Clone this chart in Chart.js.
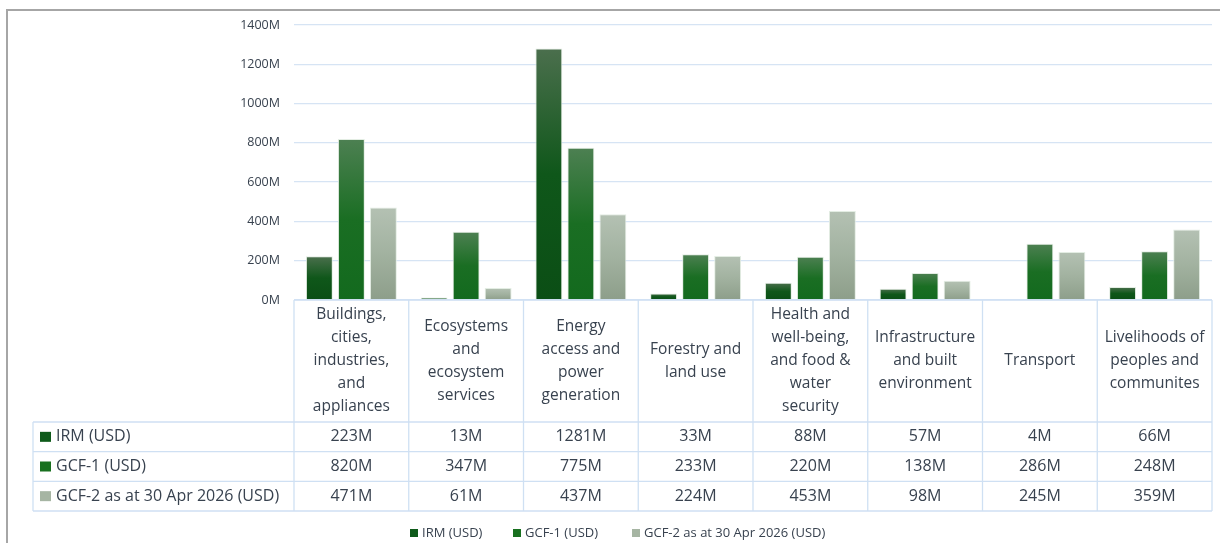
<!DOCTYPE html>
<html>
<head>
<meta charset="utf-8">
<script src="https://cdn.jsdelivr.net/npm/chart.js@4.4.1/dist/chart.umd.min.js"></script>
<style>
html,body{margin:0;padding:0;background:#fff;}
#wrap{position:relative;width:1220px;height:543px;}
</style>
</head>
<body>
<div id="wrap"><canvas id="c" width="1220" height="543"></canvas></div>
<script>
const categories = [
  ["Buildings,","cities,","industries,","and","appliances"],
  ["Ecosystems","and","ecosystem","services"],
  ["Energy","access and","power","generation"],
  ["Forestry and","land use"],
  ["Health and","well-being,","and food &","water","security"],
  ["Infrastructure","and built","environment"],
  ["Transport"],
  ["Livelihoods of","peoples and","communites"]
];
const seriesNames = ["IRM (USD)", "GCF-1 (USD)", "GCF-2 as at 30 Apr 2026 (USD)"];
const irm  = [223, 13, 1281, 33, 88, 57, 4, 66];
const gcf1 = [820, 347, 775, 233, 220, 138, 286, 248];
const gcf2 = [471, 61, 437, 224, 453, 98, 245, 359];
const yTicks = [0, 200, 400, 600, 800, 1000, 1200, 1400];

const FONT = "'Open Sans', 'Liberation Sans', sans-serif";
const TEXT = '#38424f';
const GRID = '#d6e4f4';

const gradStops = [
  ['#4b6f4d', '#0f571a', '#0b4e15'],
  ['#4d8052', '#1a6e23', '#136a1e'],
  ['#b4c1b3', '#a2b2a0', '#8d9e8a']
];
const legendColors = ['#0e5a1a', '#18701f', '#a6b5a3'];

function barGradient(idx) {
  return function(ctx) {
    const chart = ctx.chart;
    const ys = chart.scales.y;
    if (!ys || ctx.type !== 'data') return gradStops[idx][1];
    const v = ctx.parsed ? ctx.parsed.y : ctx.raw;
    const top = ys.getPixelForValue(v);
    const bot = ys.getPixelForValue(0);
    if (!isFinite(top) || !isFinite(bot) || bot - top < 1) return gradStops[idx][2];
    const g = chart.ctx.createLinearGradient(0, top, 0, bot);
    g.addColorStop(0, gradStops[idx][0]);
    g.addColorStop(0.5, gradStops[idx][1]);
    g.addColorStop(1, gradStops[idx][2]);
    return g;
  };
}

const tablePlugin = {
  id: 'tablePlugin',
  afterDraw(chart) {
    const ctx = chart.ctx;
    const area = chart.chartArea;
    const xs = chart.scales.x;
    const n = categories.length;
    const colW = (area.right - area.left) / n;
    const headTop = area.bottom;
    const headBot = 422;
    const rowH = (511 - 422) / 3;
    const leftX = 33;
    ctx.save();
    // outer frame
    ctx.strokeStyle = '#a6a6a6';
    ctx.lineWidth = 2;
    ctx.beginPath();
    ctx.moveTo(7, 543);
    ctx.lineTo(7, 10);
    ctx.lineTo(1220, 10);
    ctx.stroke();

    // table lines
    ctx.strokeStyle = '#cfe0f3';
    ctx.lineWidth = 1.3;
    ctx.beginPath();
    ctx.moveTo(area.left, headTop); ctx.lineTo(area.right, headTop);
    for (let r = 0; r <= 3; r++) {
      const y = headBot + r * rowH;
      ctx.moveTo(leftX, y); ctx.lineTo(area.right, y);
    }
    for (let i = 0; i <= n; i++) {
      const x = area.left + i * colW;
      ctx.moveTo(x, headTop); ctx.lineTo(x, headBot + 3 * rowH);
    }
    ctx.moveTo(leftX, headBot); ctx.lineTo(leftX, headBot + 3 * rowH);
    ctx.stroke();

    // header text
    ctx.fillStyle = TEXT;
    ctx.font = '15.5px ' + FONT;
    ctx.textAlign = 'center';
    ctx.textBaseline = 'middle';
    const lh = 23;
    categories.forEach((lines, i) => {
      const cx = xs.getPixelForValue(i);
      const cy = (headTop + headBot) / 2;
      const start = cy - (lines.length - 1) * lh / 2;
      lines.forEach((t, k) => ctx.fillText(t, cx, start + k * lh));
    });
    // rows
    const data = [irm, gcf1, gcf2];
    data.forEach((arr, r) => {
      const cy = headBot + r * rowH + rowH / 2;
      ctx.textAlign = 'center';
      ctx.font = '16px ' + FONT;
      arr.forEach((v, i) => {
        ctx.fillText(v + 'M', xs.getPixelForValue(i), cy);
      });
      ctx.fillStyle = legendColors[r];
      ctx.fillRect(40, cy - 5, 11, 10);
      ctx.fillStyle = TEXT;
      ctx.textAlign = 'left';
      ctx.font = '16px ' + FONT;
      ctx.fillText(seriesNames[r], 56, cy);
    });

    // bottom legend
    ctx.font = '13px ' + FONT;
    ctx.textAlign = 'left';
    const legendX = [410, 513, 632];
    seriesNames.forEach((s, r) => {
      ctx.fillStyle = legendColors[r];
      ctx.fillRect(legendX[r], 529, 8, 8);
      ctx.fillStyle = TEXT;
      ctx.fillText(s, legendX[r] + 12, 533.5);
    });
    ctx.restore();
  }
};

const datasets = [irm, gcf1, gcf2].map((arr, i) => ({
  label: seriesNames[i],
  data: arr,
  backgroundColor: barGradient(i),
  borderColor: 'rgba(225,236,225,0.95)',
  borderWidth: 1,
  categoryPercentage: 0.837,
  barPercentage: 0.84
}));

new Chart(document.getElementById('c'), {
  type: 'bar',
  data: { labels: categories, datasets },
  options: {
    responsive: false,
    animation: false,
    devicePixelRatio: 1,
    layout: { padding: { top: 25, bottom: 243, left: 0, right: 8 } },
    plugins: { legend: { display: false }, tooltip: { enabled: false } },
    scales: {
      x: { display: false },
      y: {
        min: 0, max: 1400,
        afterFit(scale) { scale.width = 294; },
        afterBuildTicks(scale) { scale.ticks = yTicks.map(v => ({ value: v })); },
        border: { display: false },
        grid: { color: GRID, lineWidth: 1.3, drawTicks: false },
        ticks: {
          padding: 14,
          color: TEXT,
          font: { family: FONT, size: 12.5 },
          callback: v => v + 'M'
        }
      }
    }
  },
  plugins: [tablePlugin]
});
</script>
</body>
</html>
